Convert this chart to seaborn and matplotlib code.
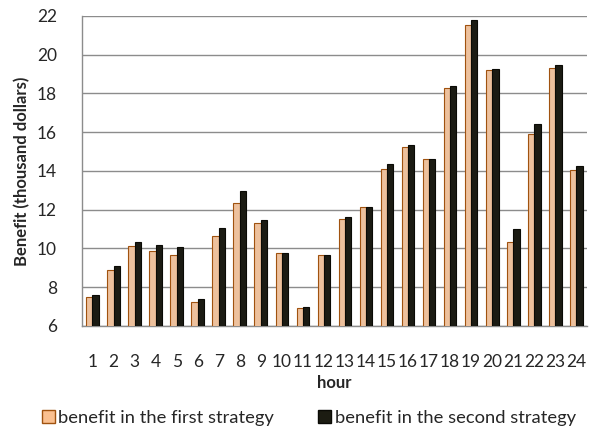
import matplotlib
matplotlib.use("Agg")
import matplotlib.pyplot as plt
import seaborn as sns
import pandas as pd
import numpy as np
from matplotlib.patches import Patch

hours = [str(h) for h in range(1, 25)]
first_strategy = [7.5, 8.9, 10.1, 9.85, 9.65, 7.25, 10.65, 12.35, 11.3, 9.75, 6.95, 9.65,
                  11.5, 12.15, 14.1, 15.25, 14.6, 18.3, 21.55, 19.2, 10.35, 15.9, 19.3, 14.05]
second_strategy = [7.6, 9.1, 10.35, 10.2, 10.05, 7.4, 11.05, 12.95, 11.45, 9.75, 7.0, 9.65,
                   11.6, 12.15, 14.35, 15.35, 14.6, 18.4, 21.8, 19.25, 11.0, 16.4, 19.45, 14.25]
series_names = ["benefit in the first strategy", "benefit in the second strategy"]

df = pd.DataFrame({
    "hour": hours * 2,
    "benefit": first_strategy + second_strategy,
    "series": [series_names[0]] * 24 + [series_names[1]] * 24,
})

sns.set_style("white")
plt.rcParams["font.family"] = ["Lato", "DejaVu Sans"]

fig = plt.figure(figsize=(5.94, 4.30), dpi=100)
ax = fig.add_axes([0.138, 0.242, 0.85, 0.721])

sns.barplot(data=df, x="hour", y="benefit", hue="series", order=hours,
            hue_order=series_names, palette=["#FAC090", "#1C1C12"],
            width=0.6, ax=ax, legend=False, zorder=3)

edges = ["#A0520F", "#0A0A05"]
for i, cont in enumerate(ax.containers):
    for bar in cont:
        bar.set_edgecolor(edges[i])
        bar.set_linewidth(0.8)

ax.set_ylim(6, 22)
ax.set_yticks(np.arange(6, 23, 2))
ax.set_xlim(-0.5, 23.5)
ax.yaxis.grid(True, color="#8C8C8C", linewidth=1.0, zorder=0)
ax.set_axisbelow(True)

for s in ["top", "right"]:
    ax.spines[s].set_visible(False)
for s in ["left", "bottom"]:
    ax.spines[s].set_color("#8C8C8C")
    ax.spines[s].set_linewidth(1.0)

# tick marks between categories, labels centred
ax.set_xticks(np.arange(-0.5, 24, 1), minor=True)
ax.tick_params(axis="x", which="major", length=0, pad=20, labelsize=12.5)
ax.tick_params(axis="x", which="minor", length=5, color="#8C8C8C", direction="out")
ax.tick_params(axis="y", length=5, color="#8C8C8C", direction="out", labelsize=12.5, pad=13)

ax.set_xlabel("hour", fontsize=12, fontweight="bold", labelpad=4)
ax.set_ylabel("Benefit (thousand dollars)", fontsize=12, fontweight="bold", labelpad=5)

handles = [Patch(facecolor="#FAC090", edgecolor=edges[0]),
           Patch(facecolor="#1C1C12", edgecolor=edges[1])]
fig.legend(handles, series_names, loc="center", bbox_to_anchor=(0.52, 0.028), ncol=2,
           frameon=False, fontsize=13.2, handlelength=0.7, handleheight=0.7,
           handletextpad=0.2, columnspacing=2.4, borderpad=0.1)

fig.savefig("out.png", dpi=100)
